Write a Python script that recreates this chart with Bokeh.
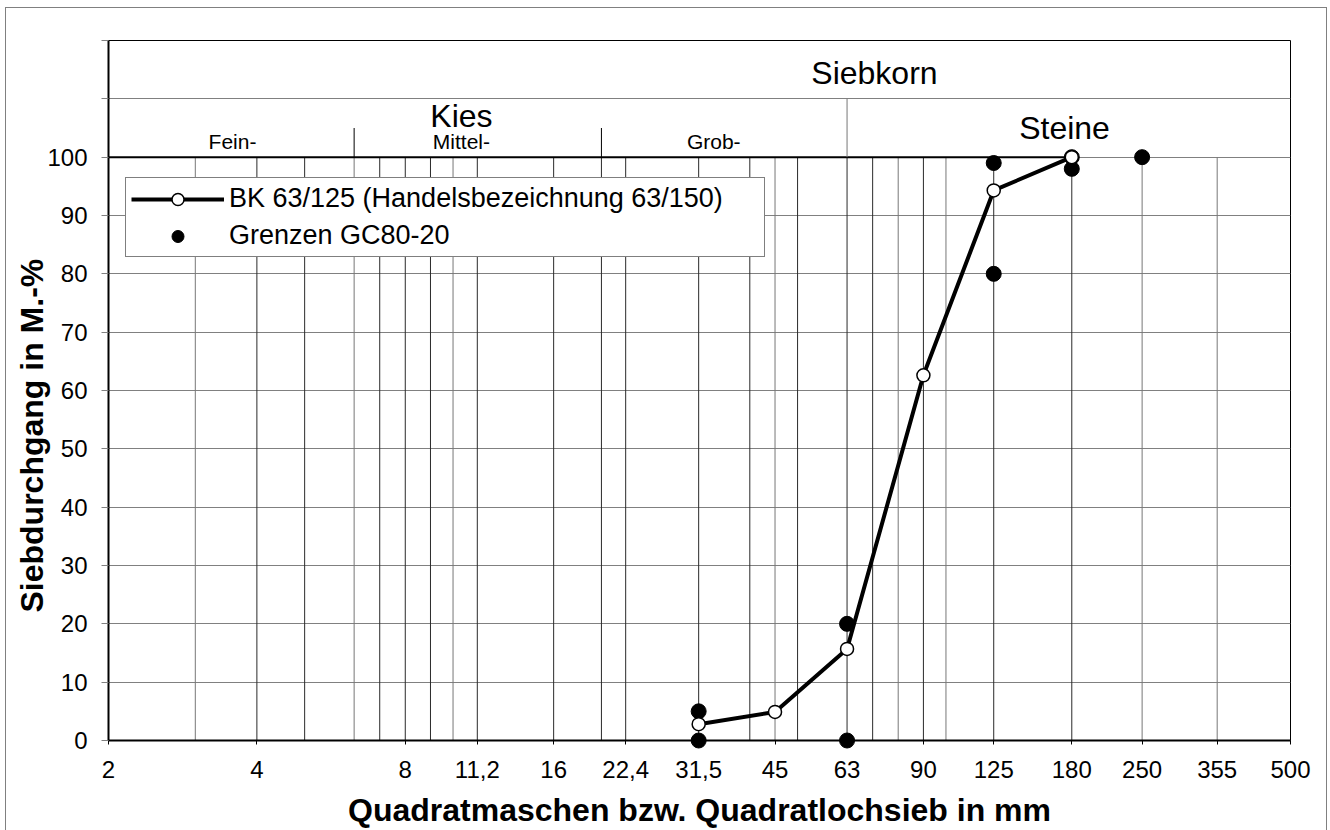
import math
from bokeh.plotting import figure
from bokeh.models import (FixedTicker, CustomJSTickFormatter, Label, Legend,
                          LegendItem, Title)
from bokeh.embed import file_html
from bokeh.resources import INLINE

# ---------------- data ----------------
x_tick_sizes = [2, 4, 8, 11.2, 16, 22.4, 31.5, 45, 63, 90, 125, 180, 250, 355, 500]
grid_sizes = [3, 4, 5, 6.3, 7.1, 8, 9, 10, 11.2, 16, 20, 22.4, 31.5, 40, 45, 50,
              63, 71, 80, 90, 100, 125, 180, 250, 355]
y_ticks = [0, 10, 20, 30, 40, 50, 60, 70, 80, 90, 100, 110, 120]

bk_sizes = [31.5, 45, 63, 90, 125, 180]
bk_passing = [2.8, 4.9, 15.7, 62.6, 94.3, 100.0]

gc_sizes = [31.5, 31.5, 63, 63, 125, 125, 180, 180, 250]
gc_passing = [0, 5, 0, 20, 80, 99, 98, 100, 100]

fraction_bounds = [6.3, 20]     # Fein- | Mittel- | Grob-
kies_steine_bound = [63]        # Kies | Steine
upper_line_end = 180

bk_label = "BK 63/125 (Handelsbezeichnung 63/150)"
gc_label = "Grenzen GC80-20"
x_title = "Quadratmaschen bzw. Quadratlochsieb in mm"
y_title = "Siebdurchgang in M.-%"

FONT = "Liberation Sans"

# ---------------- figure ----------------
p = figure(width=1330, height=830, x_axis_type="log", x_range=(2, 500),
           y_range=(0, 120), output_backend="svg", toolbar_location=None,
           min_border_left=108, min_border_right=40, min_border_top=40,
           min_border_bottom=89, background_fill_color="white",
           border_fill_color=None)
g = "linear-gradient(#808080, #808080)"
p.styles = {
    "background-color": "white",
    "background-image": f"{g}, {g}, {g}",
    "background-position": "5px 7px, 5px 7px, 1326px 7px",
    "background-size": "1px 100%, 1321px 1px, 1px 100%",
    "background-repeat": "no-repeat",
}
p.outline_line_color = "black"
p.outline_line_width = 1

# x axis
p.xaxis.ticker = FixedTicker(ticks=x_tick_sizes)
p.xaxis.formatter = CustomJSTickFormatter(code="return String(tick).replace('.', ',')")
p.xaxis.axis_line_width = 2
p.xaxis.axis_line_color = "black"
p.xaxis.major_tick_out = 4
p.xaxis.major_tick_in = 0
p.xaxis.minor_tick_line_color = None
p.xaxis.major_label_text_font = FONT
p.xaxis.major_label_text_font_size = "24px"
p.xaxis.major_label_text_color = "black"
p.xaxis.major_label_standoff = 16
p.xaxis.axis_label = x_title
p.xaxis.axis_label_text_font = FONT
p.xaxis.axis_label_text_font_size = "32px"
p.xaxis.axis_label_text_font_style = "bold"
p.xaxis.axis_label_text_color = "black"
p.xaxis.axis_label_standoff = 11

# y axis
p.yaxis.ticker = FixedTicker(ticks=y_ticks)
p.yaxis.formatter = CustomJSTickFormatter(code="return tick <= 100 ? String(tick) : ''")
p.yaxis.axis_line_width = 2
p.yaxis.axis_line_color = "black"
p.yaxis.major_tick_out = 7
p.yaxis.major_tick_in = 0
p.yaxis.major_tick_line_color = "#808080"
p.yaxis.minor_tick_line_color = None
p.yaxis.major_label_text_font = FONT
p.yaxis.major_label_text_font_size = "24px"
p.yaxis.major_label_text_color = "black"
p.yaxis.major_label_standoff = 14

# y axis title, centred on the 0..100 % part of the axis
p.add_layout(Title(text=y_title, align="left", offset=128, standoff=-10,
                   text_font=FONT, text_font_size="32px",
                   text_font_style="bold", text_color="black"), "left")

p.xgrid.visible = False
p.ygrid.grid_line_color = "#808080"
p.ygrid.grid_line_width = 1

# vertical sieve grid lines (0..100 %)
dark_set = {4, 5, 7.1, 8, 9, 11.2, 16, 20, 22.4, 31.5, 40, 50, 63, 71, 90, 125, 180}
grid_colors = ["#2a2a2a" if g in dark_set else "#777777" for g in grid_sizes]
p.segment(x0=grid_sizes, y0=[0] * len(grid_sizes), x1=grid_sizes,
          y1=[100] * len(grid_sizes), line_color=grid_colors, line_width=1)

# header structure
p.segment(x0=[x_tick_sizes[0]], y0=[100], x1=[upper_line_end], y1=[100],
          line_color="black", line_width=2)
p.segment(x0=fraction_bounds, y0=[100] * 2, x1=fraction_bounds, y1=[105] * 2,
          line_color="black", line_width=1)
p.segment(x0=kies_steine_bound, y0=[100], x1=kies_steine_bound, y1=[110],
          line_color="#777777", line_width=1)

header = [
    ("Siebkorn", 71.6, 114.4, "32px"),
    ("Kies", 10.4, 107.0, "32px"),
    ("Steine", 174, 105.0, "32px"),
    ("Fein-", 3.57, 102.7, "21px"),
    ("Mittel-", 10.4, 102.7, "21px"),
    ("Grob-", 33.8, 102.7, "21px"),
]
for txt, hx, hy, fs in header:
    p.add_layout(Label(x=hx, y=hy, text=txt, text_font=FONT, text_font_size=fs,
                       text_align="center", text_baseline="middle",
                       text_color="black"))

# ---------------- series ----------------
gc_pts = p.scatter(gc_sizes, gc_passing, marker="circle", size=15,
                   fill_color="black", line_color="black", level="overlay")
bk_line = p.line(bk_sizes, bk_passing, line_color="black", line_width=4,
                 level="overlay")
bk_pts = p.scatter(bk_sizes, bk_passing, marker="circle", size=13,
                   fill_color="white", line_color="black", line_width=1.5,
                   level="overlay")

legend = Legend(items=[LegendItem(label=bk_label, renderers=[bk_line, bk_pts]),
                       LegendItem(label=gc_label, renderers=[gc_pts])],
                location=(17, 483))
legend.padding = 5
legend.spacing = 6
legend.margin = 0
legend.glyph_width = 93
legend.glyph_height = 30
legend.label_height = 30
legend.label_width = 530
legend.label_standoff = 5
legend.label_text_font = FONT
legend.label_text_font_size = "27px"
legend.label_text_color = "black"
legend.border_line_color = "black"
legend.border_line_width = 1
legend.background_fill_color = "white"
legend.background_fill_alpha = 1.0
p.add_layout(legend)

open("out.html", "w").write(file_html(p, INLINE))
